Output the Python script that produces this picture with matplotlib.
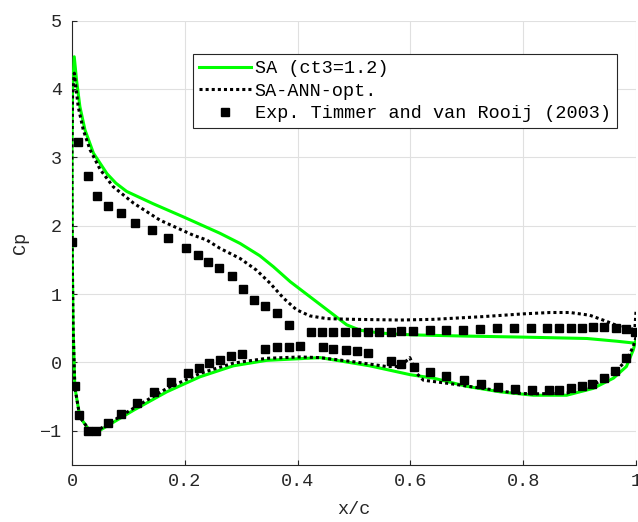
import numpy as np
import matplotlib
matplotlib.use("Agg")
import matplotlib.pyplot as plt

# SA (ct3=1.2) - closed curve, upper TE -> LE -> lower TE
sa_x = [1.0, 0.966, 0.913, 0.80, 0.70, 0.617, 0.582, 0.546, 0.511, 0.487, 0.457,
        0.422, 0.387, 0.357, 0.333, 0.298, 0.262, 0.197, 0.144, 0.097, 0.078,
        0.062, 0.038, 0.023, 0.014, 0.008, 0.004, 0.001, 0.0, 0.0, 0.0005,
        0.002, 0.005, 0.014, 0.029, 0.05, 0.109, 0.168, 0.227, 0.286, 0.345,
        0.44, 0.528, 0.60, 0.641, 0.70, 0.759, 0.818, 0.877, 0.924, 0.96,
        0.983, 0.995, 1.0]
sa_cp = [0.28, 0.31, 0.35, 0.37, 0.385, 0.40, 0.41, 0.43, 0.47, 0.55, 0.74,
         0.96, 1.18, 1.40, 1.56, 1.74, 1.89, 2.13, 2.32, 2.50, 2.62,
         2.76, 3.06, 3.40, 3.74, 4.13, 4.47, 4.0, 3.2, 2.6, 1.5,
         0.52, -0.36, -0.80, -0.97, -0.99, -0.70, -0.43, -0.21, -0.05, 0.03,
         0.07, -0.05, -0.18, -0.23, -0.35, -0.43, -0.48, -0.48, -0.38, -0.23,
         -0.06, 0.18, 0.33]

# SA-ANN-opt.
ann_x = [1.0, 0.998, 0.989, 0.972, 0.948, 0.918, 0.883, 0.848, 0.80, 0.729,
         0.641, 0.582, 0.499, 0.452, 0.422, 0.398, 0.375, 0.351, 0.327, 0.298,
         0.262, 0.239, 0.215, 0.156, 0.109, 0.073, 0.050, 0.032, 0.020, 0.011,
         0.004, 0.001, 0.0, 0.0, 0.0005, 0.002, 0.005, 0.014, 0.029, 0.05,
         0.109, 0.168, 0.227, 0.286, 0.345, 0.404, 0.44, 0.499, 0.558, 0.582,
         0.599, 0.611, 0.623, 0.67, 0.729, 0.788, 0.818, 0.877, 0.924, 0.96,
         0.983, 0.995, 1.0]
ann_cp = [0.74, 0.50, 0.48, 0.52, 0.60, 0.69, 0.73, 0.73, 0.71, 0.67,
          0.63, 0.62, 0.63, 0.64, 0.68, 0.77, 0.94, 1.16, 1.35, 1.52,
          1.67, 1.79, 1.86, 2.08, 2.33, 2.57, 2.82, 3.11, 3.40, 3.74,
          4.23, 3.9, 3.06, 2.5, 1.5, 0.5, -0.36, -0.80, -0.97, -0.97,
          -0.67, -0.38, -0.16, -0.01, 0.06, 0.08, 0.07, 0.01, -0.06, -0.06,
          0.07, -0.16, -0.26, -0.31, -0.38, -0.45, -0.46, -0.45, -0.33, -0.16,
          0.03, 0.23, 0.37]

# Exp. Timmer and van Rooij (2003)
exp_x = [0.0, 0.011, 0.028, 0.044, 0.064, 0.086, 0.112, 0.142, 0.171, 0.203,
         0.223, 0.242, 0.261, 0.283, 0.304, 0.323, 0.342, 0.363, 0.384, 0.423,
         0.443, 0.463, 0.484, 0.504, 0.525, 0.544, 0.565, 0.584, 0.604, 0.634,
         0.664, 0.694, 0.723, 0.754, 0.784, 0.814, 0.843, 0.864, 0.885, 0.905,
         0.924, 0.944, 0.965, 0.983, 0.998,
         0.005, 0.012, 0.029, 0.043, 0.063, 0.087, 0.116, 0.145, 0.176, 0.206,
         0.226, 0.243, 0.263, 0.282, 0.301, 0.342, 0.363, 0.384, 0.405, 0.445,
         0.463, 0.486, 0.506, 0.525, 0.566, 0.584, 0.606, 0.635, 0.664, 0.695,
         0.725, 0.756, 0.785, 0.815, 0.845, 0.864, 0.884, 0.904, 0.922, 0.943,
         0.963, 0.982]
exp_cp = [1.76, 3.22, 2.73, 2.43, 2.29, 2.18, 2.04, 1.93, 1.82, 1.67,
          1.57, 1.47, 1.38, 1.26, 1.07, 0.92, 0.83, 0.72, 0.55, 0.45,
          0.45, 0.44, 0.44, 0.45, 0.45, 0.45, 0.45, 0.46, 0.46, 0.47,
          0.48, 0.48, 0.49, 0.50, 0.50, 0.50, 0.51, 0.51, 0.51, 0.51,
          0.52, 0.52, 0.51, 0.49, 0.45,
          -0.34, -0.77, -1.00, -1.00, -0.89, -0.75, -0.59, -0.43, -0.28, -0.15,
          -0.08, -0.01, 0.04, 0.09, 0.13, 0.19, 0.22, 0.23, 0.24, 0.22,
          0.195, 0.18, 0.165, 0.14, 0.02, -0.02, -0.07, -0.14, -0.20, -0.25,
          -0.31, -0.36, -0.39, -0.41, -0.41, -0.41, -0.38, -0.35, -0.31, -0.23,
          -0.12, 0.07]

MONO = ["Liberation Mono", "DejaVu Sans Mono"]
FS = 13.3
DARK = (0.15, 0.15, 0.15)

plt.rcParams["font.family"] = MONO
plt.rcParams["font.size"] = FS

fig = plt.figure(figsize=(6.38, 5.22), dpi=100)
ax = fig.add_axes([72 / 638, 1 - 465 / 522, 564 / 638, 444.5 / 522])

ax.plot(sa_x, sa_cp, color=(0, 1, 0), lw=2.2, label="SA (ct3=1.2)", zorder=3)
ax.plot(ann_x, ann_cp, color="black", lw=2.2, linestyle=(0, (1, 1)),
        label="SA-ANN-opt.", zorder=4)
ax.plot(exp_x, exp_cp, "s", color="black", markersize=6.2, linestyle="none",
        label="Exp. Timmer and van Rooij (2003)", zorder=5)

ax.set_xlim(0, 1)
ax.set_ylim(-1.5, 5)
ax.set_xticks([0, 0.2, 0.4, 0.6, 0.8, 1])
ax.set_xticklabels(["0", "0.2", "0.4", "0.6", "0.8", "1"])
ax.set_yticks([-1, 0, 1, 2, 3, 4, 5])
ax.set_yticklabels(["\u22121", "0", "1", "2", "3", "4", "5"])

ax.grid(True, color=(0.88, 0.88, 0.88), lw=0.8)
ax.set_axisbelow(True)
for s in ["top", "right"]:
    ax.spines[s].set_visible(False)
for s in ["left", "bottom"]:
    ax.spines[s].set_color(DARK)
    ax.spines[s].set_linewidth(0.8)
ax.tick_params(direction="in", length=3.6, width=0.8, color=DARK,
               labelcolor=DARK, labelsize=FS)
ax.tick_params(axis="y", pad=7.2)
ax.tick_params(axis="x", pad=5.5)

ax.set_xlabel("x/c", color=DARK)
ax.set_ylabel("Cp", color=DARK)
ax.xaxis.set_label_coords(0.5, -0.082)
ax.yaxis.set_label_coords(-0.076, 0.5)

leg = ax.legend(loc="upper left", bbox_to_anchor=(193 / 638, 1 - 54.3 / 522),
                bbox_transform=fig.transFigure, borderaxespad=0,
                fancybox=False, framealpha=1, edgecolor=DARK,
                handlelength=2.8, handletextpad=0.22, labelspacing=0.3,
                borderpad=0.32, fontsize=FS)
leg.get_frame().set_linewidth(0.8)

fig.savefig("out.png", dpi=100)
